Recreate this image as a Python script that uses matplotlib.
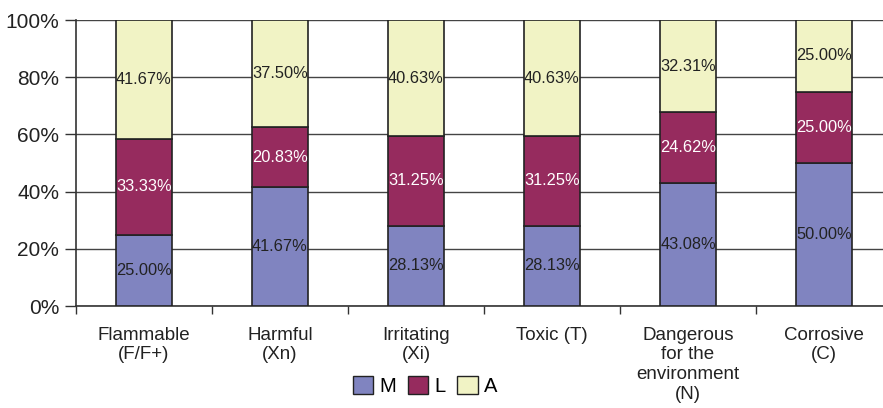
import matplotlib.pyplot as plt
from matplotlib.patches import Patch

plt.rcParams['font.family'] = ['Liberation Sans', 'DejaVu Sans']

categories = ['Flammable\n(F/F+)', 'Harmful\n(Xn)', 'Irritating\n(Xi)', 'Toxic (T)',
              'Dangerous\nfor the\nenvironment\n(N)', 'Corrosive\n(C)']
m_vals = [25.00, 41.67, 28.13, 28.13, 43.08, 50.00]
l_vals = [33.33, 20.83, 31.25, 31.25, 24.62, 25.00]
a_vals = [41.67, 37.50, 40.63, 40.63, 32.31, 25.00]

series = [('M', m_vals, '#8084c0', '#222222'),
          ('L', l_vals, '#962b5e', 'white'),
          ('A', a_vals, '#f1f3c5', '#222222')]

fig = plt.figure(figsize=(8.83, 4.08), dpi=100)
ax = fig.add_axes([76 / 883, 102 / 408, 816 / 883, 286 / 408])

x = list(range(len(categories)))
bottom = [0] * len(categories)
for name, vals, color, tcolor in series:
    ax.bar(x, vals, width=0.41, bottom=bottom, color=color, edgecolor='#222222',
           linewidth=1.2, zorder=3, label=name)
    for i, v in enumerate(vals):
        ax.text(i, bottom[i] + v / 2, '%.2f%%' % v, ha='center', va='center',
                color=tcolor, fontsize=11.8, zorder=4)
    bottom = [b + v for b, v in zip(bottom, vals)]

ax.set_xlim(-0.5, len(categories) - 0.5)
ax.set_ylim(0, 100)
ax.set_yticks([0, 20, 40, 60, 80, 100])
ax.set_yticklabels(['0%', '20%', '40%', '60%', '80%', '100%'], fontsize=15, color='#222222')
ax.yaxis.grid(True, color='#444444', linewidth=1.0, zorder=0)
ax.tick_params(axis='y', length=8, width=1, color='#333333', pad=4)

ax.set_xticks([i + 0.5 for i in range(-1, len(categories))])
ax.set_xticklabels([])
ax.set_xticks(x, minor=True)
ax.set_xticklabels(categories, minor=True, fontsize=13.5, color='#222222', linespacing=1.2)
ax.tick_params(axis='x', which='major', length=6, width=1, color='#333333')
ax.tick_params(axis='x', which='minor', length=0, pad=15)
for lbl in ax.get_xticklabels(minor=True):
    lbl.set_verticalalignment('top')

for s in ['top', 'right']:
    ax.spines[s].set_visible(False)
ax.spines['left'].set_color('#333333')
ax.spines['bottom'].set_color('#333333')
ax.spines['left'].set_linewidth(1.2)
ax.spines['bottom'].set_linewidth(1.2)

handles = [Patch(facecolor=c, edgecolor='#222222', label=n) for n, _, c, _ in series]
fig.legend(handles=handles, loc='center', bbox_to_anchor=(425 / 883, 1 - 386 / 408),
           ncol=3, frameon=False, fontsize=14.5, handlelength=1.0, handleheight=1.0,
           handletextpad=0.3, columnspacing=0.6)

fig.savefig('out.png', dpi=100)
